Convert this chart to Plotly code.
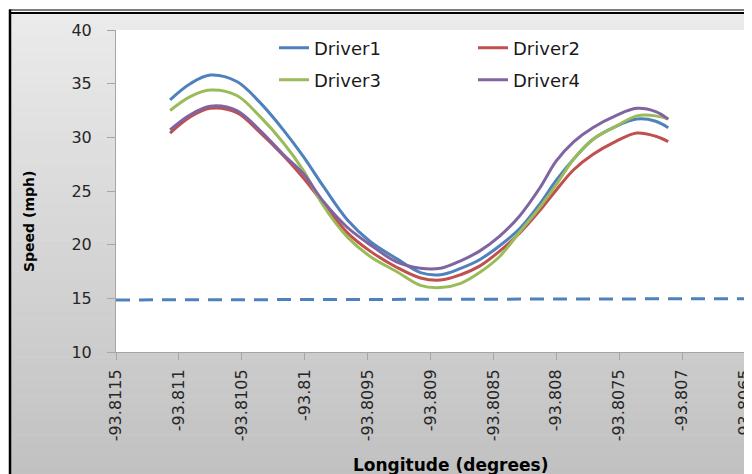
import plotly.graph_objects as go

# ---- data ----
longitude = [-93.81107, -93.81091, -93.81075, -93.81054, -93.81036, -93.81017, -93.81001,
             -93.80985, -93.80966, -93.80948, -93.80927, -93.80908, -93.80892, -93.80876,
             -93.80861, -93.80845, -93.80829, -93.80813, -93.80800, -93.80786, -93.80771,
             -93.80753, -93.80736, -93.80721, -93.80711]
driver1 = [33.5, 35.0, 35.8, 35.2, 33.3, 30.7, 28.2, 25.4, 22.3, 20.3, 18.7, 17.4, 17.2, 17.8,
           18.6, 19.9, 21.5, 23.8, 26.0, 28.0, 29.8, 31.0, 31.7, 31.5, 30.9]
driver2 = [30.4, 31.9, 32.7, 32.3, 30.5, 28.3, 26.2, 23.8, 21.1, 19.4, 17.9, 16.9, 16.7, 17.2,
           18.0, 19.4, 21.1, 23.2, 25.1, 27.0, 28.4, 29.6, 30.4, 30.1, 29.6]
driver3 = [32.5, 33.8, 34.4, 33.9, 32.0, 29.5, 26.9, 23.6, 20.7, 18.9, 17.5, 16.2, 16.0, 16.4,
           17.4, 18.9, 21.2, 23.5, 25.6, 28.0, 29.8, 31.0, 32.0, 32.0, 31.7]
driver4 = [30.7, 32.1, 32.9, 32.5, 30.7, 28.4, 26.6, 24.0, 21.6, 20.0, 18.4, 17.8, 17.8, 18.5,
           19.4, 20.8, 22.7, 25.3, 27.8, 29.6, 30.9, 32.0, 32.7, 32.4, 31.7]
series_names = ["Driver1", "Driver2", "Driver3", "Driver4"]
series_colors = ["#4F81BD", "#C0504D", "#9BBB59", "#8064A2"]
series_legends = ["legend", "legend", "legend2", "legend2"]

limit_lon = [-93.8115, -93.8065]
limit_speed = [14.85, 14.97]

x_tickvals = [-93.8115, -93.811, -93.8105, -93.81, -93.8095, -93.809, -93.8085,
              -93.808, -93.8075, -93.807, -93.8065]
x_ticktext = ["-93.8115", "-93.811", "-93.8105", "-93.81", "-93.8095", "-93.809",
              "-93.8085", "-93.808", "-93.8075", "-93.807", "-93.8065"]
y_tickvals = [10, 15, 20, 25, 30, 35, 40]

# ---- geometry helpers (reference pixel -> paper); page body offset of 8px ----
OFF = 8
W, H = 752, 474
L, R, T, B = 108, 15, 22, 130
PW, PH = W - L - R, H - T - B


def px(x):
    return (x - OFF - L) / PW


def py(y):
    return (H - B - (y - OFF)) / PH


fig = go.Figure()

for name, vals, col, lg in zip(series_names, [driver1, driver2, driver3, driver4],
                               series_colors, series_legends):
    fig.add_trace(go.Scatter(x=longitude, y=vals, mode="lines", name=name, legend=lg,
                             line=dict(color=col, width=3, shape="spline", smoothing=1)))

fig.add_trace(go.Scatter(x=limit_lon, y=limit_speed, mode="lines", showlegend=False,
                         line=dict(color="#4F81BD", width=3, dash="14px,9px")))

# background gradient bands
shapes = []
n = 60
y0, y1 = 14, H + OFF
c_top, c_bot = (235, 235, 235), (192, 192, 192)
for i in range(n):
    ya = y0 + (y1 - y0) * i / n
    yb = y0 + (y1 - y0) * (i + 1) / n + 0.6
    t = (i + 0.5) / n
    c = tuple(int(round(c_top[k] + (c_bot[k] - c_top[k]) * t)) for k in range(3))
    shapes.append(dict(type="rect", xref="paper", yref="paper", layer="below",
                       x0=px(11), x1=px(W + OFF + 2), y0=py(yb), y1=py(ya),
                       line=dict(width=0), fillcolor="rgb(%d,%d,%d)" % c))
# white plot area
shapes.append(dict(type="rect", xref="paper", yref="paper", layer="below",
                   x0=0, x1=1, y0=0, y1=1, line=dict(width=0), fillcolor="white"))
# outer border
shapes.append(dict(type="line", xref="paper", yref="paper", x0=px(9), x1=px(W + OFF + 2),
                   y0=py(10), y1=py(10), line=dict(color="#505050", width=1.5)))
shapes.append(dict(type="line", xref="paper", yref="paper", x0=px(9), x1=px(W + OFF + 2),
                   y0=py(13), y1=py(13), line=dict(color="black", width=2)))
shapes.append(dict(type="line", xref="paper", yref="paper", x0=px(10), x1=px(10),
                   y0=py(9.5), y1=py(H + OFF + 2), line=dict(color="black", width=2.5)))

font_family = "DejaVu Sans"
legend_common = dict(orientation="h", xanchor="left", yanchor="middle",
                     entrywidth=154, entrywidthmode="pixels", bgcolor="rgba(0,0,0,0)",
                     font=dict(size=18, color="#1a1a1a"), traceorder="normal")

fig.update_layout(
    width=W, height=H, autosize=False,
    margin=dict(l=L, r=R, t=T, b=B, autoexpand=False),
    paper_bgcolor="white",
    plot_bgcolor="rgba(0,0,0,0)",
    shapes=shapes,
    font=dict(family=font_family, color="#262626"),
    xaxis=dict(range=[-93.8115, -93.8065], tickvals=x_tickvals, ticktext=x_ticktext,
               tickangle=-90, showgrid=False, zeroline=False, showline=True, automargin=False,
               linecolor="#a6a6a6", linewidth=1, ticks="outside", ticklen=7,
               tickcolor="#a6a6a6", ticklabelstandoff=3,
               tickfont=dict(size=16, color="#262626")),
    yaxis=dict(range=[10, 40], tickvals=y_tickvals, showgrid=False, zeroline=False,
               showline=True, automargin=False, linecolor="#a6a6a6", linewidth=1,
               ticks="outside", ticklen=8, tickcolor="#a6a6a6", ticklabelstandoff=12,
               tickfont=dict(size=16, color="#262626")),
    legend=dict(x=px(274), y=py(48), **legend_common),
    legend2=dict(x=px(274), y=py(80), **legend_common),
    annotations=[
        dict(text="<b>Speed (mph)</b>", xref="paper", yref="paper", x=px(29), y=py(222),
             xanchor="center", yanchor="middle",
             textangle=-90, showarrow=False, font=dict(size=14, color="black")),
        dict(text="<b>Longitude (degrees)</b>", xref="paper", yref="paper", x=px(450),
             y=py(465), xanchor="center", yanchor="middle",
             showarrow=False, font=dict(size=17, color="black")),
    ],
)

fig.write_html("out.html")
